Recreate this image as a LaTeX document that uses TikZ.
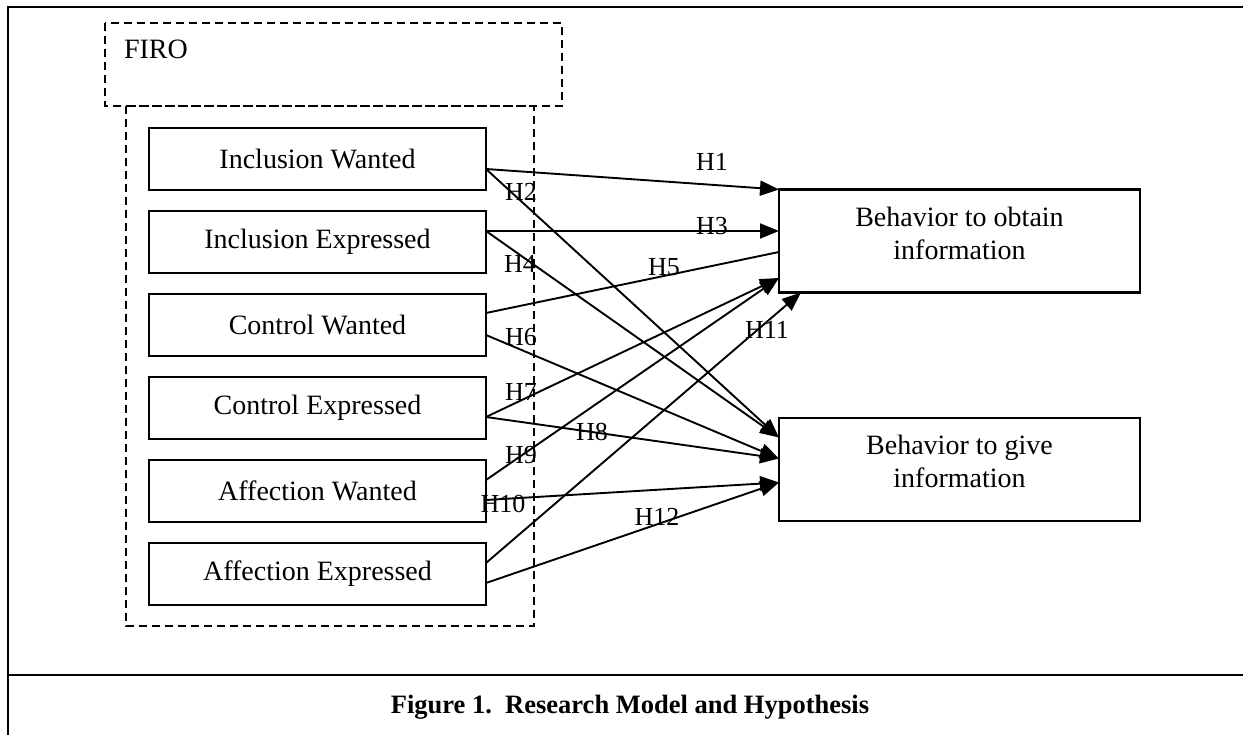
\documentclass[tikz,border=0pt]{standalone}
\usepackage{fontspec}
\setmainfont{Liberation Serif}
\usetikzlibrary{positioning,arrows.meta}

\begin{document}
\begin{tikzpicture}[x=1pt, y=-1pt,
		every node/.style={font=\fontsize{28}{33}\selectfont},
		factor/.style={draw, line width=2.2pt, minimum width=337pt, minimum height=62pt, inner sep=0pt, outer sep=0pt},
		behavior/.style={draw, line width=2.2pt, minimum width=361pt, minimum height=103pt, inner sep=0pt, outer sep=0pt},
		group/.style={draw, line width=1.8pt, dash pattern=on 8pt off 5pt},
		hyp/.style={line width=1.9pt, -{Triangle[length=19pt,width=15pt]}},
		hlab/.style={font=\fontsize{26}{30}\selectfont, inner sep=0pt},
	]
	\useasboundingbox (0,0) rectangle (1243,735);

	\draw[line width=2.8pt] (1243,7) -- (8,7) -- (8,735);
	\draw[line width=2.8pt] (8,675) -- (1243,675);
	\node [font=\fontsize{26.5}{31}\selectfont\bfseries] (cap) at (630,707) {Figure 1.\ \ Research Model and Hypothesis};

	\draw[group] (105,23) rectangle (562,106);
	\node (firo) at (156,49) {FIRO};
	\draw[group] (126,106) rectangle (534,626);

	\node [factor] (iw) at (317.5,159) {Inclusion Wanted};
	\node [factor, below=21pt of iw] (ie) {Inclusion Expressed};
	\node [factor, below=21pt of ie] (cw) {Control Wanted};
	\node [factor, below=21pt of cw] (ce) {Control Expressed};
	\node [factor, below=21pt of ce] (aw) {Affection Wanted};
	\node [factor, below=21pt of aw] (ae) {Affection Expressed};

	\node [behavior] (obt) at (959.5,241) {};
	\node [align=center] (obttext) at ([yshift=8pt]obt.center) {Behavior to obtain\\information};
	\node [behavior] (give) at (959.5,469.5) {};
	\node [align=center] (givetext) at ([yshift=8pt]give.center) {Behavior to give\\information};

	\draw[hyp] ([yshift=-10pt]iw.east) -- (obt.north west);
	\draw[hyp] ([yshift=-10pt]iw.east) -- ([yshift=32pt]give.west);
	\draw[hyp] ([yshift=11pt]ie.east) -- ([yshift=10pt]obt.west);
	\draw[hyp] ([yshift=11pt]ie.east) -- ([yshift=32pt]give.west);
	\draw[line width=1.9pt] ([yshift=12pt]cw.east) -- ([yshift=-11pt]obt.west);
	\draw[hyp] ([yshift=-10pt]cw.east) -- ([yshift=11pt]give.west);
	\draw[hyp] ([yshift=-9pt]ce.east) -- ([yshift=-37pt]obt.west);
	\draw[hyp] ([yshift=-9pt]ce.east) -- ([yshift=11pt]give.west);
	\draw[hyp] ([yshift=11pt]aw.east) -- ([yshift=-37pt]obt.west);
	\draw[hyp] ([yshift=-9pt]aw.east) -- ([yshift=-13pt]give.west);
	\draw[hyp] ([yshift=11pt]ae.east) -- ([xshift=22pt]obt.south west);
	\draw[hyp] ([yshift=-9pt]ae.east) -- ([yshift=-13pt]give.west);

	\node [hlab] (h1) at (712,162) {H1};
	\node [hlab] (h2) at (521,192) {H2};
	\node [hlab] (h3) at (712,226) {H3};
	\node [hlab] (h4) at (520,264) {H4};
	\node [hlab] (h5) at (664,267) {H5};
	\node [hlab] (h6) at (521,337) {H6};
	\node [hlab] (h7) at (521,392) {H7};
	\node [hlab] (h8) at (592,432) {H8};
	\node [hlab] (h9) at (521,455) {H9};
	\node [hlab] (h10) at (503,504) {H10};
	\node [hlab] (h11) at (767,330) {H11};
	\node [hlab] (h12) at (657,517) {H12};
\end{tikzpicture}
\end{document}
